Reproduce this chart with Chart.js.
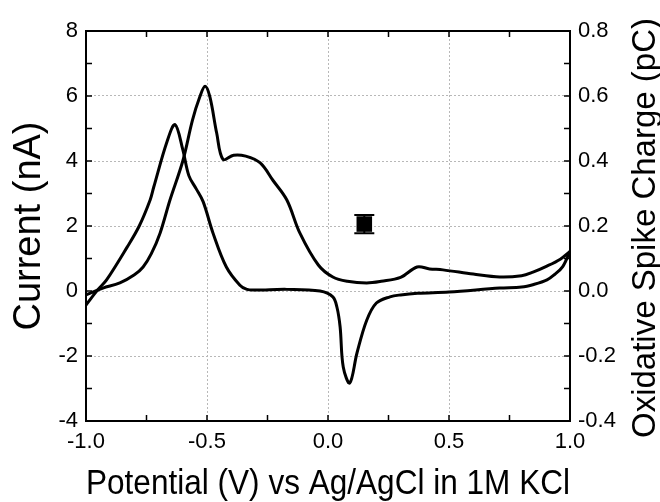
<!DOCTYPE html>
<html lang="en">
<head>
    <meta charset="UTF-8">
    <title>Cyclic voltammogram</title>
    <script src="https://cdn.jsdelivr.net/npm/chart.js@4.4.1/dist/chart.umd.min.js"></script>
    <style>
        body {
            margin: 0;
            background: #ffffff;
        }
        .chart-box {
            width: 660px;
            height: 502px;
        }
    </style>
</head>
<body>
    <div class="chart-box">
        <canvas id="cvChart" width="660" height="502"></canvas>
    </div>

    <script>
        // tick values
        const potentialTicks = [-1.0, -0.5, 0.0, 0.5, 1.0];
        const currentTicks = [-4, -2, 0, 2, 4, 6, 8];
        const chargeTicks = [-0.4, -0.2, 0.0, 0.2, 0.4, 0.6, 0.8];

        // anodic sweep, -1.0 V -> 1.0 V
        const forwardV = [-1.0, -0.96, -0.93, -0.86, -0.8, -0.764, -0.73, -0.694, -0.653, -0.6, -0.56, -0.53, -0.508, -0.488, -0.46, -0.434, -0.39, -0.34, -0.28, -0.227, -0.17, -0.116, -0.04, 0.02, 0.08, 0.16, 0.22, 0.3, 0.368, 0.42, 0.475, 0.6, 0.71, 0.8, 0.847, 0.9, 0.96, 1.0];
        const forwardI = [-0.12, 0.0, 0.09, 0.25, 0.5, 0.74, 1.15, 1.78, 2.8, 4.0, 5.26, 5.97, 6.3, 5.97, 4.86, 4.05, 4.18, 4.15, 3.94, 3.4, 2.8, 1.78, 0.8, 0.43, 0.3, 0.25, 0.3, 0.42, 0.74, 0.68, 0.65, 0.52, 0.43, 0.47, 0.58, 0.75, 0.98, 1.22];

        // cathodic sweep, 1.0 V -> -1.0 V
        const reverseV = [1.0, 0.97, 0.935, 0.905, 0.85, 0.8, 0.71, 0.5, 0.37, 0.3, 0.256, 0.2, 0.16, 0.12, 0.09, 0.063, 0.05, 0.037, 0.02, -0.033, -0.17, -0.3, -0.335, -0.364, -0.42, -0.475, -0.516, -0.545, -0.575, -0.6, -0.632, -0.665, -0.72, -0.735, -0.78, -0.83, -0.915, -0.95, -1.0];
        const reverseI = [1.22, 0.75, 0.5, 0.34, 0.2, 0.12, 0.09, -0.03, -0.07, -0.12, -0.18, -0.37, -0.9, -1.9, -2.83, -2.34, -1.1, -0.5, -0.18, 0.0, 0.05, 0.03, 0.05, 0.18, 0.74, 1.78, 2.75, 3.15, 3.55, 4.35, 5.12, 4.6, 3.2, 2.8, 2.0, 1.35, 0.34, 0.05, -0.43];

        // oxidative spike charge (right axis)
        const spikeV = [0.15];
        const spikeQ = [0.206];
        const spikeErr = [0.028];

        const toPoints = (xs, ys) => xs.map((x, i) => ({ x: x, y: ys[i] }));
        const setTicks = list => scale => { scale.ticks = list.map(v => ({ value: v })); };
        const fontFamily = "'Liberation Sans', Arial, sans-serif";
        const tickFont = { family: fontFamily, size: 22 };

        // frame, inward ticks, error bar and right-hand title
        const decorations = {
            id: 'decorations',
            afterDraw(chart) {
                const ctx = chart.ctx;
                const area = chart.chartArea;
                const xs = chart.scales.x;
                const ys = chart.scales.y;
                const y1 = chart.scales.y1;
                const len = 6;

                const withMinor = list => {
                    const out = [];
                    list.forEach((v, i) => {
                        out.push(v);
                        if (i < list.length - 1) out.push((v + list[i + 1]) / 2);
                    });
                    return out;
                };

                ctx.save();
                ctx.strokeStyle = '#000';
                ctx.lineWidth = 1.5;
                ctx.beginPath();
                withMinor(potentialTicks).forEach(v => {
                    const px = xs.getPixelForValue(v);
                    ctx.moveTo(px, area.bottom);
                    ctx.lineTo(px, area.bottom - len);
                    ctx.moveTo(px, area.top);
                    ctx.lineTo(px, area.top + len);
                });
                withMinor(currentTicks).forEach(v => {
                    const py = ys.getPixelForValue(v);
                    ctx.moveTo(area.left, py);
                    ctx.lineTo(area.left + len, py);
                });
                withMinor(chargeTicks).forEach(v => {
                    const py = y1.getPixelForValue(v);
                    ctx.moveTo(area.right, py);
                    ctx.lineTo(area.right - len, py);
                });
                ctx.stroke();

                ctx.lineWidth = 2;
                ctx.strokeRect(area.left, area.top, area.right - area.left, area.bottom - area.top);

                // error bars on the spike charge
                ctx.lineWidth = 2;
                spikeV.forEach((v, i) => {
                    const px = xs.getPixelForValue(v);
                    const hi = y1.getPixelForValue(spikeQ[i] + spikeErr[i]);
                    const lo = y1.getPixelForValue(spikeQ[i] - spikeErr[i]);
                    ctx.beginPath();
                    ctx.moveTo(px, hi);
                    ctx.lineTo(px, lo);
                    ctx.moveTo(px - 10, hi);
                    ctx.lineTo(px + 10, hi);
                    ctx.moveTo(px - 10, lo);
                    ctx.lineTo(px + 10, lo);
                    ctx.stroke();
                });

                ctx.fillStyle = '#000';
                ctx.font = '33px ' + fontFamily;
                ctx.textAlign = 'center';
                ctx.textBaseline = 'middle';
                ctx.translate(646, (area.top + area.bottom) / 2 + 2);
                ctx.rotate(-Math.PI / 2);
                ctx.fillText('Oxidative Spike Charge (pC)', 0, 0);
                ctx.restore();
            }
        };

        const lineStyle = {
            showLine: true,
            borderColor: '#000',
            borderWidth: 3,
            pointRadius: 0,
            tension: 0.35,
            yAxisID: 'y'
        };

        new Chart(document.getElementById('cvChart'), {
            type: 'scatter',
            data: {
                datasets: [
                    { ...lineStyle, data: toPoints(forwardV, forwardI) },
                    { ...lineStyle, data: toPoints(reverseV, reverseI) },
                    {
                        data: toPoints(spikeV, spikeQ),
                        yAxisID: 'y1',
                        pointStyle: 'rect',
                        pointRadius: 11,
                        backgroundColor: '#000',
                        borderColor: '#000',
                        borderWidth: 0
                    }
                ]
            },
            options: {
                responsive: false,
                animation: false,
                layout: { padding: { top: 31, left: 0, right: 0, bottom: 0 } },
                plugins: {
                    legend: { display: false },
                    tooltip: { enabled: false }
                },
                scales: {
                    x: {
                        type: 'linear',
                        position: 'bottom',
                        min: -1,
                        max: 1,
                        afterBuildTicks: setTicks(potentialTicks),
                        afterFit: s => { s.height = 81; },
                        ticks: {
                            font: tickFont,
                            color: '#000',
                            padding: 8,
                            maxRotation: 0,
                            autoSkip: false,
                            callback: v => v.toFixed(1)
                        },
                        grid: { color: '#b8b8b8', lineWidth: 1, drawTicks: false },
                        border: { display: false, dash: [2, 2] },
                        title: {
                            display: true,
                            text: 'Potential (V) vs Ag/AgCl in 1M KCl',
                            color: '#000',
                            font: { family: fontFamily, size: 35, lineHeight: 1 },
                            padding: { top: 0, bottom: 0 }
                        }
                    },
                    y: {
                        type: 'linear',
                        position: 'left',
                        min: -4,
                        max: 8,
                        afterBuildTicks: setTicks(currentTicks),
                        afterFit: s => { s.width = 86; },
                        ticks: {
                            font: tickFont,
                            color: '#000',
                            padding: 8,
                            callback: v => String(v)
                        },
                        grid: { color: '#b8b8b8', lineWidth: 1, drawTicks: false },
                        border: { display: false, dash: [2, 2] },
                        title: {
                            display: true,
                            text: 'Current (nA)',
                            color: '#000',
                            font: { family: fontFamily, size: 38, lineHeight: 1 },
                            padding: { top: 11, bottom: 0 }
                        }
                    },
                    y1: {
                        type: 'linear',
                        position: 'right',
                        min: -0.4,
                        max: 0.8,
                        afterBuildTicks: setTicks(chargeTicks),
                        afterFit: s => { s.width = 90; },
                        ticks: {
                            font: tickFont,
                            color: '#000',
                            padding: 8,
                            callback: v => v.toFixed(1)
                        },
                        grid: { display: false, drawTicks: false },
                        border: { display: false }
                    }
                }
            },
            plugins: [decorations]
        });
    </script>
</body>
</html>
